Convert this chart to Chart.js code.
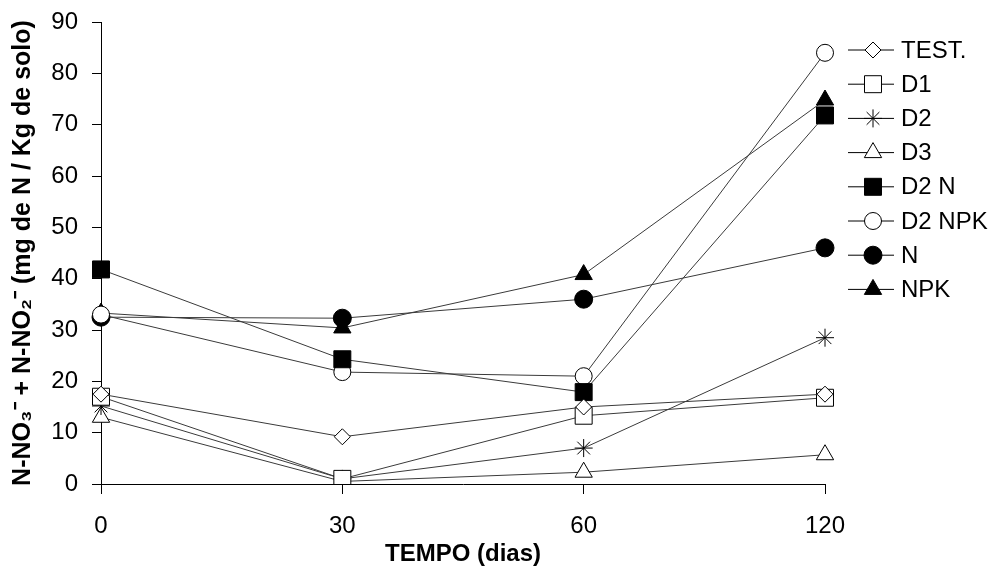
<!DOCTYPE html>
<html>
<head>
<meta charset="utf-8">
<script src="https://cdn.jsdelivr.net/npm/chart.js@4.4.1/dist/chart.umd.min.js"></script>
<style>
  body { margin: 0; background: #fff; }
  #wrap { width: 1002px; height: 570px; position: relative; }
</style>
</head>
<body>
<div id="wrap"><canvas id="chart"></canvas></div>
<script>
// Days of incubation
const days = ['0', '30', '60', '120'];

// N-NO3 + N-NO2 (mg de N / Kg de solo)
const test   = [17.5, 9.2, 15.0, 17.5];
const d1     = [17.0, 1.0, 13.3, 16.8];
const d2     = [15.2, 1.0, 7.0, 28.5];
const d3     = [13.0, 0.5, 2.3, 5.7];
const d2n    = [41.8, 24.3, 17.9, 71.8];
const d2npk  = [33.0, 21.8, 21.0, 84.0];
const nOnly  = [32.5, 32.3, 36.0, 46.0];
const npk    = [33.3, 30.4, 40.8, 74.8];

const seriesNames = ['TEST.', 'D1', 'D2', 'D3', 'D2 N', 'D2 NPK', 'N', 'NPK'];
const yTicks = [0, 10, 20, 30, 40, 50, 60, 70, 80, 90];

const FONT = '"Liberation Sans", Arial, sans-serif';

function makeSet(label, data, style, radius, filled) {
  return {
    label: label,
    data: data,
    borderColor: '#3a3a3a',
    borderWidth: 1,
    pointStyle: style,
    pointRadius: radius,
    pointHoverRadius: radius,
    pointBorderColor: '#000',
    pointBorderWidth: 1,
    pointBackgroundColor: filled ? '#000' : '#fff',
    fill: false,
    tension: 0
  };
}

const datasets = [
  makeSet(seriesNames[0], test, 'rectRot', 8, false),
  makeSet(seriesNames[1], d1, 'rect', 12, false),
  makeSet(seriesNames[2], d2, 'star', 9, false),
  makeSet(seriesNames[3], d3, 'triangle', 10, false),
  makeSet(seriesNames[4], d2n, 'rect', 12, true),
  makeSet(seriesNames[5], d2npk, 'circle', 8.5, false),
  makeSet(seriesNames[6], nOnly, 'circle', 9, true),
  makeSet(seriesNames[7], npk, 'triangle', 10, true)
];

// legend drawn like the original: line - marker - line, then label
const sideLegend = {
  id: 'sideLegend',
  afterDraw(chart) {
    const ctx = chart.ctx;
    ctx.save();
    chart.data.datasets.forEach((ds, i) => {
      const y = 50 + i * 34.2;
      ctx.strokeStyle = '#000';
      ctx.lineWidth = 1;
      ctx.beginPath();
      ctx.moveTo(848, y);
      ctx.lineTo(894, y);
      ctx.stroke();
      ctx.fillStyle = ds.pointBackgroundColor;
      ctx.strokeStyle = '#000';
      Chart.helpers.drawPoint(ctx, {
        pointStyle: ds.pointStyle,
        radius: ds.pointRadius,
        rotation: 0,
        borderWidth: 1
      }, 873, y);
      ctx.fillStyle = '#000';
      ctx.font = '24px ' + FONT;
      ctx.textAlign = 'left';
      ctx.textBaseline = 'middle';
      ctx.fillText(ds.label, 901, y + 1);
    });
    ctx.restore();
  }
};

const ctx = document.getElementById('chart').getContext('2d');
new Chart(ctx, {
  type: 'line',
  data: { labels: days, datasets: datasets },
  options: {
    responsive: true,
    maintainAspectRatio: false,
    animation: false,
    layout: { padding: { left: 0, right: 177, top: 22, bottom: 0 } },
    plugins: {
      legend: { display: false },
      tooltip: { enabled: false }
    },
    scales: {
      x: {
        type: 'category',
        offset: false,
        afterFit: axis => { axis.height = 86; axis.paddingLeft = 0; axis.paddingRight = 0; },
        border: { color: '#000', width: 1 },
        grid: { display: true, drawOnChartArea: false, drawTicks: true, tickLength: 10, color: '#000' },
        ticks: { color: '#000', padding: 18, maxRotation: 0, font: { size: 24, family: FONT } },
        title: {
          display: true,
          text: 'TEMPO (dias)',
          color: '#000',
          padding: { top: 0, bottom: 1 },
          font: { size: 24, weight: 'bold', family: FONT }
        }
      },
      y: {
        min: 0,
        max: 90,
        afterFit: axis => { axis.width = 101; axis.paddingTop = 0; axis.paddingBottom = 0; },
        afterBuildTicks: axis => { axis.ticks = yTicks.map(v => ({ value: v })); },
        border: { color: '#000', width: 1 },
        grid: { display: true, drawOnChartArea: false, drawTicks: true, tickLength: 9, color: '#000' },
        ticks: { color: '#000', padding: 14, font: { size: 24, family: FONT } },
        title: {
          display: true,
          text: 'N-NO\u2083\u207B + N-NO\u2082\u207B (mg de N / Kg de solo)',
          color: '#000',
          padding: { top: 8, bottom: 0 },
          font: { size: 25, weight: 'bold', family: FONT }
        }
      }
    }
  },
  plugins: [sideLegend]
});
</script>
</body>
</html>
